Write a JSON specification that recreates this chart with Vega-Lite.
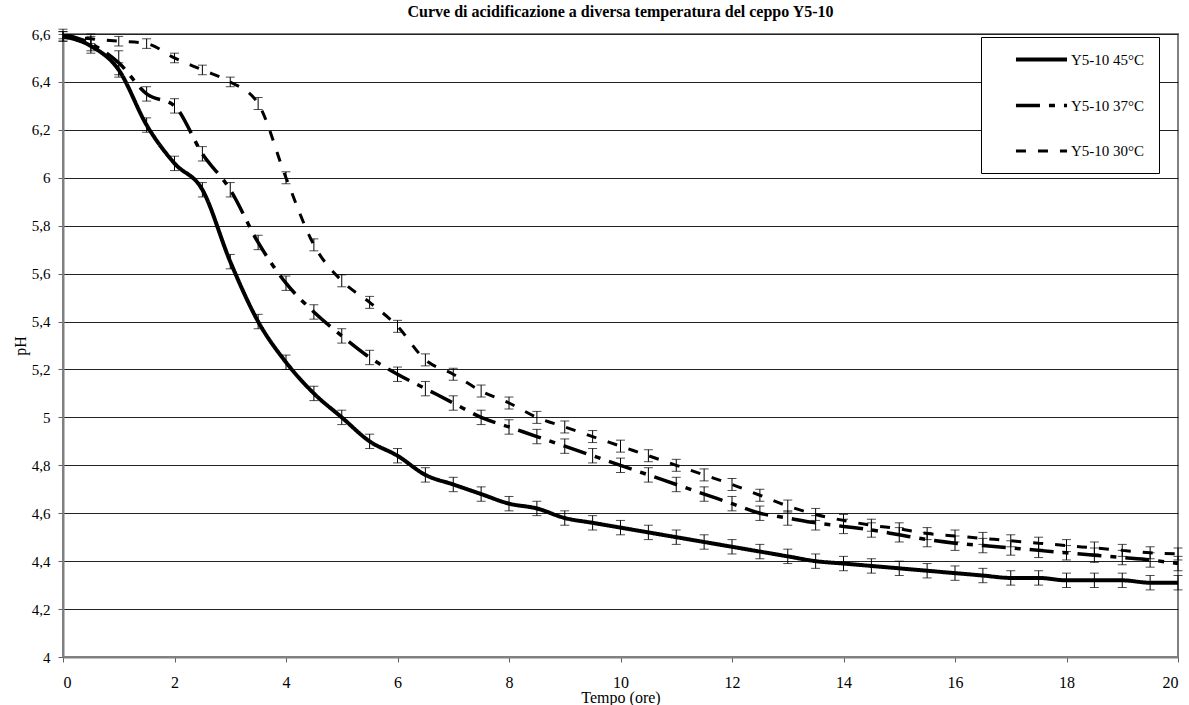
{
  "$schema": "https://vega.github.io/schema/vega-lite/v6.json",
  "width": 1115,
  "height": 623,
  "autosize": {"type": "none"},
  "padding": {"left": 63, "top": 34, "right": 11, "bottom": 48},
  "background": "white",
  "title": {"text": "Curve di acidificazione a diversa temperatura del ceppo Y5-10", "font": "Liberation Serif", "fontSize": 16, "fontWeight": "bold", "anchor": "middle", "offset": 7, "color": "black"},
  "config": {
    "view": {"stroke": "#808080", "strokeWidth": 2},
    "axis": {"labelFont": "Liberation Serif", "labelColor": "black", "titleFont": "Liberation Serif", "titleFontWeight": "normal", "titleColor": "black", "domainColor": "#808080", "domainWidth": 2, "tickColor": "#606060", "tickSize": 5, "gridColor": "#222", "gridWidth": 1}
  },
  "data": {"values": [
    {"t": 0, "serie": "Y5-10 45°C", "pH": 6.59, "err": 0.02},
    {"t": 0.5, "serie": "Y5-10 45°C", "pH": 6.55, "err": 0.03},
    {"t": 1, "serie": "Y5-10 45°C", "pH": 6.45, "err": 0.03},
    {"t": 1.5, "serie": "Y5-10 45°C", "pH": 6.22, "err": 0.03},
    {"t": 2, "serie": "Y5-10 45°C", "pH": 6.06, "err": 0.03},
    {"t": 2.5, "serie": "Y5-10 45°C", "pH": 5.95, "err": 0.03},
    {"t": 3, "serie": "Y5-10 45°C", "pH": 5.65, "err": 0.03},
    {"t": 3.5, "serie": "Y5-10 45°C", "pH": 5.4, "err": 0.03},
    {"t": 4, "serie": "Y5-10 45°C", "pH": 5.23, "err": 0.03},
    {"t": 4.5, "serie": "Y5-10 45°C", "pH": 5.1, "err": 0.03},
    {"t": 5, "serie": "Y5-10 45°C", "pH": 5.0, "err": 0.03},
    {"t": 5.5, "serie": "Y5-10 45°C", "pH": 4.9, "err": 0.03},
    {"t": 6, "serie": "Y5-10 45°C", "pH": 4.84, "err": 0.03},
    {"t": 6.5, "serie": "Y5-10 45°C", "pH": 4.76, "err": 0.03},
    {"t": 7, "serie": "Y5-10 45°C", "pH": 4.72, "err": 0.03},
    {"t": 7.5, "serie": "Y5-10 45°C", "pH": 4.68, "err": 0.03},
    {"t": 8, "serie": "Y5-10 45°C", "pH": 4.64, "err": 0.03},
    {"t": 8.5, "serie": "Y5-10 45°C", "pH": 4.62, "err": 0.03},
    {"t": 9, "serie": "Y5-10 45°C", "pH": 4.58, "err": 0.03},
    {"t": 9.5, "serie": "Y5-10 45°C", "pH": 4.56, "err": 0.03},
    {"t": 10, "serie": "Y5-10 45°C", "pH": 4.54, "err": 0.03},
    {"t": 10.5, "serie": "Y5-10 45°C", "pH": 4.52, "err": 0.03},
    {"t": 11, "serie": "Y5-10 45°C", "pH": 4.5, "err": 0.03},
    {"t": 11.5, "serie": "Y5-10 45°C", "pH": 4.48, "err": 0.03},
    {"t": 12, "serie": "Y5-10 45°C", "pH": 4.46, "err": 0.03},
    {"t": 12.5, "serie": "Y5-10 45°C", "pH": 4.44, "err": 0.03},
    {"t": 13, "serie": "Y5-10 45°C", "pH": 4.42, "err": 0.03},
    {"t": 13.5, "serie": "Y5-10 45°C", "pH": 4.4, "err": 0.03},
    {"t": 14, "serie": "Y5-10 45°C", "pH": 4.39, "err": 0.03},
    {"t": 14.5, "serie": "Y5-10 45°C", "pH": 4.38, "err": 0.03},
    {"t": 15, "serie": "Y5-10 45°C", "pH": 4.37, "err": 0.03},
    {"t": 15.5, "serie": "Y5-10 45°C", "pH": 4.36, "err": 0.03},
    {"t": 16, "serie": "Y5-10 45°C", "pH": 4.35, "err": 0.03},
    {"t": 16.5, "serie": "Y5-10 45°C", "pH": 4.34, "err": 0.03},
    {"t": 17, "serie": "Y5-10 45°C", "pH": 4.33, "err": 0.03},
    {"t": 17.5, "serie": "Y5-10 45°C", "pH": 4.33, "err": 0.03},
    {"t": 18, "serie": "Y5-10 45°C", "pH": 4.32, "err": 0.03},
    {"t": 18.5, "serie": "Y5-10 45°C", "pH": 4.32, "err": 0.03},
    {"t": 19, "serie": "Y5-10 45°C", "pH": 4.32, "err": 0.03},
    {"t": 19.5, "serie": "Y5-10 45°C", "pH": 4.31, "err": 0.03},
    {"t": 20, "serie": "Y5-10 45°C", "pH": 4.31, "err": 0.03},
    {"t": 0, "serie": "Y5-10 37°C", "pH": 6.6, "err": 0.02},
    {"t": 0.5, "serie": "Y5-10 37°C", "pH": 6.56, "err": 0.03},
    {"t": 1, "serie": "Y5-10 37°C", "pH": 6.48, "err": 0.05},
    {"t": 1.5, "serie": "Y5-10 37°C", "pH": 6.35, "err": 0.03},
    {"t": 2, "serie": "Y5-10 37°C", "pH": 6.3, "err": 0.03},
    {"t": 2.5, "serie": "Y5-10 37°C", "pH": 6.1, "err": 0.03},
    {"t": 3, "serie": "Y5-10 37°C", "pH": 5.95, "err": 0.03},
    {"t": 3.5, "serie": "Y5-10 37°C", "pH": 5.73, "err": 0.03},
    {"t": 4, "serie": "Y5-10 37°C", "pH": 5.56, "err": 0.03},
    {"t": 4.5, "serie": "Y5-10 37°C", "pH": 5.44, "err": 0.03},
    {"t": 5, "serie": "Y5-10 37°C", "pH": 5.34, "err": 0.03},
    {"t": 5.5, "serie": "Y5-10 37°C", "pH": 5.25, "err": 0.03},
    {"t": 6, "serie": "Y5-10 37°C", "pH": 5.18, "err": 0.03},
    {"t": 6.5, "serie": "Y5-10 37°C", "pH": 5.12, "err": 0.03},
    {"t": 7, "serie": "Y5-10 37°C", "pH": 5.06, "err": 0.03},
    {"t": 7.5, "serie": "Y5-10 37°C", "pH": 5.0, "err": 0.03},
    {"t": 8, "serie": "Y5-10 37°C", "pH": 4.96, "err": 0.03},
    {"t": 8.5, "serie": "Y5-10 37°C", "pH": 4.92, "err": 0.03},
    {"t": 9, "serie": "Y5-10 37°C", "pH": 4.88, "err": 0.03},
    {"t": 9.5, "serie": "Y5-10 37°C", "pH": 4.84, "err": 0.03},
    {"t": 10, "serie": "Y5-10 37°C", "pH": 4.8, "err": 0.03},
    {"t": 10.5, "serie": "Y5-10 37°C", "pH": 4.76, "err": 0.03},
    {"t": 11, "serie": "Y5-10 37°C", "pH": 4.72, "err": 0.03},
    {"t": 11.5, "serie": "Y5-10 37°C", "pH": 4.68, "err": 0.03},
    {"t": 12, "serie": "Y5-10 37°C", "pH": 4.64, "err": 0.03},
    {"t": 12.5, "serie": "Y5-10 37°C", "pH": 4.6, "err": 0.03},
    {"t": 13, "serie": "Y5-10 37°C", "pH": 4.58, "err": 0.03},
    {"t": 13.5, "serie": "Y5-10 37°C", "pH": 4.56, "err": 0.03},
    {"t": 14, "serie": "Y5-10 37°C", "pH": 4.545, "err": 0.03},
    {"t": 14.5, "serie": "Y5-10 37°C", "pH": 4.53, "err": 0.03},
    {"t": 15, "serie": "Y5-10 37°C", "pH": 4.51, "err": 0.03},
    {"t": 15.5, "serie": "Y5-10 37°C", "pH": 4.49, "err": 0.03},
    {"t": 16, "serie": "Y5-10 37°C", "pH": 4.475, "err": 0.03},
    {"t": 16.5, "serie": "Y5-10 37°C", "pH": 4.465, "err": 0.03},
    {"t": 17, "serie": "Y5-10 37°C", "pH": 4.455, "err": 0.03},
    {"t": 17.5, "serie": "Y5-10 37°C", "pH": 4.445, "err": 0.03},
    {"t": 18, "serie": "Y5-10 37°C", "pH": 4.435, "err": 0.03},
    {"t": 18.5, "serie": "Y5-10 37°C", "pH": 4.425, "err": 0.03},
    {"t": 19, "serie": "Y5-10 37°C", "pH": 4.415, "err": 0.03},
    {"t": 19.5, "serie": "Y5-10 37°C", "pH": 4.405, "err": 0.03},
    {"t": 20, "serie": "Y5-10 37°C", "pH": 4.39, "err": 0.03},
    {"t": 0, "serie": "Y5-10 30°C", "pH": 6.59, "err": 0.02},
    {"t": 0.5, "serie": "Y5-10 30°C", "pH": 6.58, "err": 0.02},
    {"t": 1, "serie": "Y5-10 30°C", "pH": 6.57, "err": 0.02},
    {"t": 1.5, "serie": "Y5-10 30°C", "pH": 6.56, "err": 0.02},
    {"t": 2, "serie": "Y5-10 30°C", "pH": 6.5, "err": 0.02},
    {"t": 2.5, "serie": "Y5-10 30°C", "pH": 6.45, "err": 0.02},
    {"t": 3, "serie": "Y5-10 30°C", "pH": 6.4, "err": 0.02},
    {"t": 3.5, "serie": "Y5-10 30°C", "pH": 6.31, "err": 0.025},
    {"t": 4, "serie": "Y5-10 30°C", "pH": 6.0, "err": 0.025},
    {"t": 4.5, "serie": "Y5-10 30°C", "pH": 5.72, "err": 0.025},
    {"t": 5, "serie": "Y5-10 30°C", "pH": 5.57, "err": 0.025},
    {"t": 5.5, "serie": "Y5-10 30°C", "pH": 5.48, "err": 0.025},
    {"t": 6, "serie": "Y5-10 30°C", "pH": 5.38, "err": 0.025},
    {"t": 6.5, "serie": "Y5-10 30°C", "pH": 5.24, "err": 0.025},
    {"t": 7, "serie": "Y5-10 30°C", "pH": 5.18, "err": 0.025},
    {"t": 7.5, "serie": "Y5-10 30°C", "pH": 5.11, "err": 0.025},
    {"t": 8, "serie": "Y5-10 30°C", "pH": 5.06, "err": 0.025},
    {"t": 8.5, "serie": "Y5-10 30°C", "pH": 5.0, "err": 0.025},
    {"t": 9, "serie": "Y5-10 30°C", "pH": 4.96, "err": 0.025},
    {"t": 9.5, "serie": "Y5-10 30°C", "pH": 4.92, "err": 0.025},
    {"t": 10, "serie": "Y5-10 30°C", "pH": 4.88, "err": 0.025},
    {"t": 10.5, "serie": "Y5-10 30°C", "pH": 4.84, "err": 0.025},
    {"t": 11, "serie": "Y5-10 30°C", "pH": 4.8, "err": 0.025},
    {"t": 11.5, "serie": "Y5-10 30°C", "pH": 4.76, "err": 0.025},
    {"t": 12, "serie": "Y5-10 30°C", "pH": 4.72, "err": 0.025},
    {"t": 12.5, "serie": "Y5-10 30°C", "pH": 4.675, "err": 0.025},
    {"t": 13, "serie": "Y5-10 30°C", "pH": 4.63, "err": 0.025},
    {"t": 13.5, "serie": "Y5-10 30°C", "pH": 4.595, "err": 0.025},
    {"t": 14, "serie": "Y5-10 30°C", "pH": 4.57, "err": 0.025},
    {"t": 14.5, "serie": "Y5-10 30°C", "pH": 4.55, "err": 0.025},
    {"t": 15, "serie": "Y5-10 30°C", "pH": 4.535, "err": 0.025},
    {"t": 15.5, "serie": "Y5-10 30°C", "pH": 4.515, "err": 0.025},
    {"t": 16, "serie": "Y5-10 30°C", "pH": 4.505, "err": 0.025},
    {"t": 16.5, "serie": "Y5-10 30°C", "pH": 4.495, "err": 0.025},
    {"t": 17, "serie": "Y5-10 30°C", "pH": 4.485, "err": 0.025},
    {"t": 17.5, "serie": "Y5-10 30°C", "pH": 4.475, "err": 0.025},
    {"t": 18, "serie": "Y5-10 30°C", "pH": 4.465, "err": 0.025},
    {"t": 18.5, "serie": "Y5-10 30°C", "pH": 4.455, "err": 0.025},
    {"t": 19, "serie": "Y5-10 30°C", "pH": 4.445, "err": 0.025},
    {"t": 19.5, "serie": "Y5-10 30°C", "pH": 4.435, "err": 0.025},
    {"t": 20, "serie": "Y5-10 30°C", "pH": 4.43, "err": 0.025}
  ]},
  "layer": [
    {
      "mark": {"type": "line", "interpolate": "monotone", "color": "black", "clip": true},
      "encoding": {
        "x": {"field": "t", "type": "quantitative", "scale": {"domain": [0, 20], "nice": false}, "title": "Tempo (ore)", "axis": {"values": [0, 2, 4, 6, 8, 10, 12, 14, 16, 18, 20], "grid": false, "labelFontSize": 16, "titleFontSize": 16, "labelPadding": 12, "titlePadding": -1}},
        "y": {"field": "pH", "type": "quantitative", "scale": {"domain": [4, 6.6], "nice": false, "zero": false}, "title": "pH", "axis": {"values": [4, 4.2, 4.4, 4.6, 4.8, 5, 5.2, 5.4, 5.6, 5.8, 6, 6.2, 6.4, 6.6], "labelFontSize": 15, "titleFontSize": 16, "labelPadding": 8, "titlePadding": 3, "labelExpr": "replace(format(datum.value, '.1~f'), '.', ',')"}},
        "strokeDash": {"field": "serie", "type": "nominal", "scale": {"domain": ["Y5-10 45°C", "Y5-10 37°C", "Y5-10 30°C"], "range": [[1, 0], [24, 9, 6, 9], [10, 12]]},
          "legend": {"orient": "none", "legendX": 918, "legendY": 3, "title": null, "symbolType": "M-4,0H4", "symbolSize": 163, "symbolStrokeColor": "black", "symbolOffset": 38, "labelOffset": 21, "labelFont": "Liberation Serif", "labelFontSize": 15, "labelColor": "black", "padding": 14, "rowPadding": 29, "strokeColor": "black", "fillColor": "white", "labelExpr": "datum.label + '\u2002\u2002\u2002'"}},
        "strokeWidth": {"field": "serie", "type": "nominal", "scale": {"domain": ["Y5-10 45°C", "Y5-10 37°C", "Y5-10 30°C"], "range": [4, 3, 5]},
          "legend": {"orient": "none", "legendX": 918, "legendY": 3, "title": null, "symbolType": "M-4,0H4", "symbolSize": 163, "symbolStrokeColor": "black", "symbolOffset": 38, "labelOffset": 21, "labelFont": "Liberation Serif", "labelFontSize": 15, "labelColor": "black", "padding": 14, "rowPadding": 29, "strokeColor": "black", "fillColor": "white", "labelExpr": "datum.label + '\u2002\u2002\u2002'"}}
      }
    },
    {
      "mark": {"type": "errorbar", "color": "black", "thickness": 1, "ticks": {"size": 9, "color": "black"}},
      "encoding": {
        "x": {"field": "t", "type": "quantitative"},
        "y": {"field": "pH", "type": "quantitative"},
        "yError": {"field": "err"}
      }
    }
  ]
}
